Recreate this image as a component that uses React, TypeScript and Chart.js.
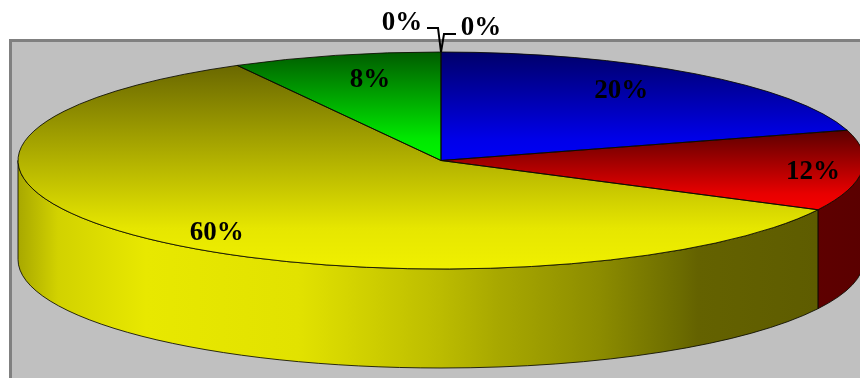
import React, { useEffect, useRef } from "react";
import { Chart, registerables } from "chart.js";

Chart.register(...registerables);

const categories = ["Blue", "Red", "Yellow", "Green", "Empty A", "Empty B"];
const shares = [20.5, 12.0, 59.5, 8.0, 0, 0];
const labels = ["20%", "12%", "60%", "8%", "0%", "0%"];

const faceDark = ["#00006a", "#5c0000", "#6a6800", "#005c00", "#000000", "#000000"];
const faceMid = ["#0000e8", "#e80000", "#e6e600", "#00e800", "#000000", "#000000"];
const faceBright = ["#0000f6", "#f60000", "#f0f000", "#00f400", "#000000", "#000000"];
const wallStops: [number, string][][] = [
  [],
  [[0, "#5e0000"], [1, "#5a0000"]],
  [[0, "#a8a800"], [0.05, "#d2d200"], [0.16, "#e8e800"], [0.35, "#e2e200"], [0.527, "#bcbc00"], [0.6, "#a8a800"], [0.727, "#8c8c00"], [0.826, "#6c6c00"], [0.85, "#646200"], [1, "#5e5c00"]],
  [],
  [],
  [],
];

// label anchor: fraction of the radius along x and y at the slice's mid angle, then a pixel shift
const labelFractions = [[0.725, 0.81], [0.88, 1.6], [0.775, 0.9], [0.675, 0.774], [1, 1], [1, 1]];
const labelShifts = [[-4, 1], [1.5, -5], [4, 2], [0, 1], [-39, -29], [40, -24]];
const leaderPaths: (number[][] | null)[] = [
  null, null, null, null,
  [[-14, -24], [-3, -24], [0, 0]],
  [[15, -18], [3, -18], [0, 0]],
];

const STRETCH = 423 / 108.5;
const DEPTH = 99;
const OUTLINE = "rgba(10,10,0,0.85)";
const SERIF = '"Liberation Serif", serif';

function sliceGradient(ctx: any, i: number, arc: any) {
  const pts = [arc.y];
  const n = 40;
  for (let k = 0; k <= n; k++) {
    const a = arc.startAngle + ((arc.endAngle - arc.startAngle) * k) / n;
    pts.push(arc.y + arc.outerRadius * Math.sin(a));
  }
  const g = ctx.createLinearGradient(0, Math.min(...pts), 0, Math.max(...pts));
  g.addColorStop(0, faceDark[i]);
  g.addColorStop(0.8, faceMid[i]);
  g.addColorStop(1, faceBright[i]);
  return g;
}

const pie3d = {
  id: "pie3d",
  beforeDraw(chart: any) {
    const { ctx, width, height } = chart;
    ctx.save();
    ctx.fillStyle = "#ffffff";
    ctx.fillRect(0, 0, width, height);
    ctx.fillStyle = "#808080";
    ctx.fillRect(9, 39, width, height);
    ctx.fillStyle = "#c0c0c0";
    ctx.fillRect(12, 42, width, height);
    ctx.restore();
  },
  beforeDatasetsDraw(chart: any) {
    const { ctx } = chart;
    const arcs = chart.getDatasetMeta(0).data;
    ctx.save();
    arcs.forEach((arc: any, i: number) => {
      const from = Math.max(arc.startAngle, 0);
      const to = Math.min(arc.endAngle, Math.PI);
      if (to <= from || !wallStops[i].length) return;
      const rx = arc.outerRadius * STRETCH;
      const ry = arc.outerRadius;
      const x0 = arc.x + rx * Math.cos(to);
      const x1 = arc.x + rx * Math.cos(from);
      const g = ctx.createLinearGradient(x0, 0, x1, 0);
      wallStops[i].forEach(([p, c]) => g.addColorStop(p, c));
      ctx.beginPath();
      ctx.ellipse(arc.x, arc.y, rx, ry, 0, from, to);
      ctx.ellipse(arc.x, arc.y + DEPTH, rx, ry, 0, to, from, true);
      ctx.closePath();
      ctx.fillStyle = g;
      ctx.fill();
      ctx.strokeStyle = OUTLINE;
      ctx.lineWidth = 1;
      ctx.stroke();
    });
    ctx.restore();
    // stretch the library's circular pie into the flat ellipse
    const first = arcs[0];
    ctx.save();
    ctx.translate(first.x, 0);
    ctx.scale(STRETCH, 1);
    ctx.translate(-first.x, 0);
  },
  afterDatasetsDraw(chart: any) {
    const { ctx } = chart;
    ctx.restore();
    const arcs = chart.getDatasetMeta(0).data;
    ctx.save();
    ctx.strokeStyle = OUTLINE;
    ctx.lineWidth = 1;
    arcs.forEach((arc: any) => {
      if (arc.endAngle - arc.startAngle <= 0) return;
      const rx = arc.outerRadius * STRETCH;
      ctx.beginPath();
      ctx.moveTo(arc.x, arc.y);
      ctx.ellipse(arc.x, arc.y, rx, arc.outerRadius, 0, arc.startAngle, arc.endAngle);
      ctx.closePath();
      ctx.stroke();
    });
    ctx.fillStyle = "#000000";
    ctx.font = `bold 27px ${SERIF}`;
    ctx.textAlign = "center";
    ctx.textBaseline = "middle";
    arcs.forEach((arc: any, i: number) => {
      const mid = (arc.startAngle + arc.endAngle) / 2;
      const rx = arc.outerRadius * STRETCH;
      const ax = arc.x + rx * labelFractions[i][0] * Math.cos(mid);
      const ay = arc.y + arc.outerRadius * labelFractions[i][1] * Math.sin(mid);
      const path = leaderPaths[i];
      if (path) {
        ctx.beginPath();
        path.forEach(([dx, dy], k) => {
          if (k === 0) ctx.moveTo(ax + dx, ay + dy);
          else ctx.lineTo(ax + dx, ay + dy);
        });
        ctx.lineWidth = 2;
        ctx.strokeStyle = "#000000";
        ctx.stroke();
      }
      ctx.fillText(labels[i], ax + labelShifts[i][0], ay + labelShifts[i][1]);
    });
    ctx.restore();
  },
};

export default function App() {
  const ref = useRef<HTMLCanvasElement | null>(null);
  useEffect(() => {
    const chart = new Chart(ref.current as HTMLCanvasElement, {
      type: "pie",
      data: {
        labels: categories,
        datasets: [
          {
            data: shares,
            borderWidth: 0,
            clip: false,
            backgroundColor: (c: any) => {
              const arc = c.chart.getDatasetMeta(0).data[c.dataIndex];
              if (!arc || !arc.outerRadius) return faceBright[c.dataIndex];
              return sliceGradient(c.chart.ctx, c.dataIndex, arc);
            },
          } as any,
        ],
      },
      options: {
        animation: false,
        responsive: false,
        devicePixelRatio: 1,
        rotation: 0,
        layout: { padding: { left: 22, right: 0, top: 52, bottom: 109 } },
        plugins: { legend: { display: false }, tooltip: { enabled: false } },
      },
      plugins: [pie3d],
    });
    chart.update();
    return () => chart.destroy();
  }, []);
  return (
    <canvas
      ref={ref}
      width={860}
      height={378}
      style={{ position: "fixed", left: 0, top: 0, display: "block" }}
    />
  );
}
